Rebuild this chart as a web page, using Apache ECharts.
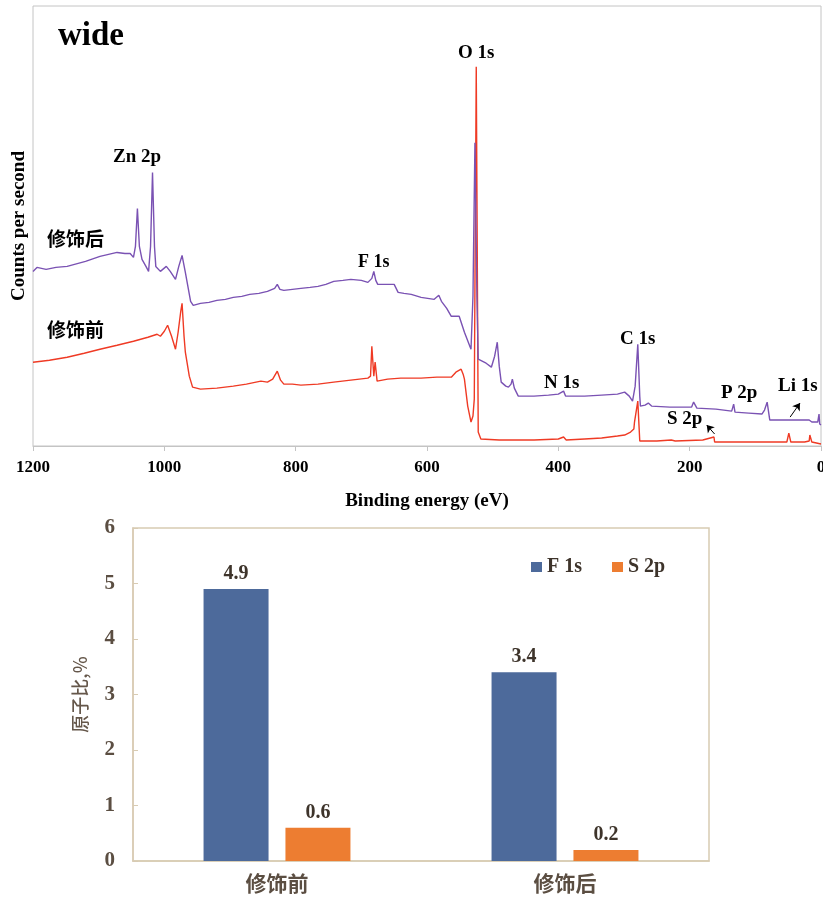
<!DOCTYPE html>
<html>
<head>
<meta charset="utf-8">
<script src="https://cdn.jsdelivr.net/npm/echarts@6/dist/echarts.min.js"></script>
<style>
    html, body { margin: 0; padding: 0; background: #fff; }
    #main { width: 823px; height: 897px; }
</style>
</head>
<body>
<div id="main"></div>
<script>
// XPS 全谱 (Binding energy eV, counts 任意单位)
var afterSpectrum = [
    [1200, 175], [1194, 179], [1180, 177], [1165, 179], [1148, 180], [1120, 185], [1098, 190], [1085, 192],
    [1072, 194], [1060, 193], [1052, 193], [1047, 189], [1044, 200], [1041, 238], [1038, 200], [1034, 187],
    [1028, 180], [1024, 175], [1021, 200], [1018, 274], [1015, 200], [1013, 180], [1006, 175], [997, 180],
    [991, 175], [983, 167], [978, 180], [973, 191], [968, 174], [960, 145], [956, 141], [945, 143],
    [932, 144], [920, 146], [907, 147], [895, 149], [882, 150], [870, 152], [856, 153], [843, 155],
    [832, 158], [828, 162], [824, 157], [818, 156], [805, 157], [792, 158], [778, 159], [766, 160],
    [754, 162], [742, 165], [728, 166], [716, 167], [700, 166], [690, 164], [684, 168], [681, 175],
    [678, 166], [675, 162], [660, 162], [650, 162], [644, 154], [635, 153], [624, 152], [609, 149],
    [589, 147], [582, 151], [578, 145], [570, 138], [563, 130], [551, 130], [543, 114], [533, 97],
    [530, 150], [527, 304], [524, 150], [522, 87], [510, 83], [502, 79], [497, 90], [493, 104],
    [490, 80], [487, 64], [480, 60], [476, 59], [472, 62], [470, 67], [467, 58], [461, 50],
    [437, 50], [415, 51], [400, 52], [392, 55], [389, 50], [360, 50], [334, 51], [310, 52],
    [299, 54], [292, 50], [287, 45], [283, 60], [279, 102], [276, 50], [275, 40], [268, 41],
    [263, 43], [258, 40], [230, 39], [197, 39], [194, 44], [189, 38], [160, 37], [136, 35],
    [133, 42], [131, 34], [110, 33], [90, 32], [86, 36], [82, 44], [78, 26], [60, 26],
    [47, 26], [46, 28], [40, 26], [18, 26], [14, 24], [5, 24], [3, 32], [2, 22], [0, 21]
];
var beforeSpectrum = [
    [1200, 84], [1175, 86], [1148, 89], [1122, 93], [1098, 97], [1072, 101], [1047, 105], [1025, 109],
    [1011, 112], [1006, 110], [1000, 115], [995, 121], [989, 110], [983, 97], [979, 114], [975, 135],
    [973, 143], [970, 110], [968, 94], [962, 70], [957, 59], [945, 57], [920, 58], [895, 60],
    [875, 62], [853, 65], [843, 64], [835, 67], [828, 75], [823, 66], [818, 62], [805, 62],
    [792, 61], [766, 62], [742, 64], [716, 66], [690, 68], [686, 70], [684, 100], [682, 80],
    [681, 70], [679, 84], [676, 65], [660, 67], [640, 68], [609, 68], [585, 69], [563, 69],
    [556, 74], [548, 77], [545, 72], [543, 67], [538, 40], [533, 24], [530, 30], [528, 47],
    [525, 380], [522, 14], [518, 7], [490, 6], [460, 6], [437, 6], [400, 7], [392, 9],
    [388, 6], [360, 7], [334, 8], [310, 10], [299, 11], [290, 14], [285, 17], [284, 24],
    [279, 45], [276, 5], [250, 5], [228, 6], [225, 8], [222, 5], [180, 6], [163, 9],
    [162, 4], [120, 4], [79, 4], [52, 4], [49, 13], [46, 4], [25, 4], [18, 5], [17, 11],
    [14, 4], [11, 2], [0, 2]
];

// 原子比柱状图
var barCategories = ['修饰前', '修饰后'];
var f1sValues = [4.9, 3.4];
var s2pValues = [0.6, 0.2];

var serifFont = '"Liberation Serif", "Times New Roman", serif';
var cjkFont = '"Noto Sans CJK SC", sans-serif';
var brown = '#5b4e42';

var myChart = echarts.init(document.getElementById('main'));

var option = {
    animation: false,
    backgroundColor: '#fff',
    legend: {
        data: ['F 1s', 'S 2p'],
        left: 526,
        top: 552,
        itemWidth: 11,
        itemHeight: 10,
        itemGap: 30,
        icon: 'rect',
        textStyle: { fontFamily: serifFont, fontWeight: 'bold', fontSize: 20, color: '#3e342b' }
    },
    grid: [
        { left: 33, top: 6, width: 788, height: 440, show: true, borderColor: '#c4c4c4', borderWidth: 1, outerBoundsMode: 'none', containLabel: false },
        { left: 133, top: 528, width: 576, height: 333, show: true, borderColor: '#d8cbb3', borderWidth: 1.5, outerBoundsMode: 'none', containLabel: false }
    ],
    xAxis: [
        {
            gridIndex: 0,
            type: 'value',
            inverse: true,
            min: 0,
            max: 1200,
            interval: 200,
            name: 'Binding energy (eV)',
            nameLocation: 'middle',
            nameGap: 46,
            nameTextStyle: { fontFamily: serifFont, fontWeight: 'bold', fontSize: 19, color: '#000' },
            axisLine: { lineStyle: { color: '#c4c4c4' } },
            axisTick: { length: 5, lineStyle: { color: '#c4c4c4' } },
            axisLabel: {
                margin: 13,
                fontFamily: serifFont,
                fontWeight: 'bold',
                fontSize: 17,
                color: '#000',
                formatter: function (v) { return String(v); }
            },
            splitLine: { show: false }
        },
        {
            gridIndex: 1,
            type: 'category',
            data: barCategories,
            axisLine: { lineStyle: { color: '#d8cbb3', width: 1.5 } },
            axisTick: { show: false },
            axisLabel: { margin: 12, fontFamily: cjkFont, fontWeight: 'bold', fontSize: 21, color: brown }
        }
    ],
    yAxis: [
        {
            gridIndex: 0,
            type: 'value',
            min: 0,
            max: 441,
            name: 'Counts per second',
            nameLocation: 'middle',
            nameGap: 4,
            nameTextStyle: { fontFamily: serifFont, fontWeight: 'bold', fontSize: 19, color: '#000' },
            axisLine: { show: false },
            axisTick: { show: false },
            axisLabel: { show: false },
            splitLine: { show: false }
        },
        {
            gridIndex: 1,
            type: 'value',
            min: 0,
            max: 6,
            interval: 1,
            name: '原子比,%',
            nameLocation: 'middle',
            nameGap: 44,
            nameTextStyle: { fontFamily: cjkFont, fontWeight: 500, fontSize: 18, color: '#65574a' },
            axisLine: { show: true, lineStyle: { color: '#d8cbb3', width: 1.5 } },
            axisTick: { show: true, inside: true, length: 5, lineStyle: { color: '#d8cbb3' } },
            axisLabel: { margin: 18, fontFamily: serifFont, fontWeight: 'bold', fontSize: 21, color: brown },
            splitLine: { show: false }
        }
    ],
    series: [
        {
            name: '修饰前',
            type: 'line',
            xAxisIndex: 0,
            yAxisIndex: 0,
            data: beforeSpectrum,
            showSymbol: false,
            lineStyle: { color: '#ef3a24', width: 1.4 },
            itemStyle: { color: '#ef3a24' },
            markLine: {
                silent: true,
                symbol: ['none', 'arrow'],
                symbolSize: 7,
                label: { show: false },
                lineStyle: { color: '#000', type: 'solid', width: 1 },
                data: [
                    [{ coord: [162, 12] }, { coord: [174, 21] }],
                    [{ coord: [47, 29] }, { coord: [32, 43] }]
                ]
            }
        },
        {
            name: '修饰后',
            type: 'line',
            xAxisIndex: 0,
            yAxisIndex: 0,
            data: afterSpectrum,
            showSymbol: false,
            lineStyle: { color: '#7a52b3', width: 1.4 },
            itemStyle: { color: '#7a52b3' }
        },
        {
            name: 'F 1s',
            type: 'bar',
            xAxisIndex: 1,
            yAxisIndex: 1,
            data: f1sValues,
            barWidth: 65,
            barGap: '26%',
            itemStyle: { color: '#4d6a9b' },
            label: {
                show: true,
                position: 'top',
                distance: 5,
                fontFamily: serifFont,
                fontWeight: 'bold',
                fontSize: 20,
                color: '#3e342b'
            }
        },
        {
            name: 'S 2p',
            type: 'bar',
            xAxisIndex: 1,
            yAxisIndex: 1,
            data: s2pValues,
            barWidth: 65,
            itemStyle: { color: '#ed7d31' },
            label: {
                show: true,
                position: 'top',
                distance: 5,
                fontFamily: serifFont,
                fontWeight: 'bold',
                fontSize: 20,
                color: '#3e342b'
            }
        }
    ],
    // 峰标注文字
    graphic: [
        { type: 'text', left: 58, top: 20, style: { text: 'wide', font: 'bold 33px ' + serifFont, fill: '#000' } },
        { type: 'text', left: 113, top: 148, style: { text: 'Zn 2p', font: 'bold 19px ' + serifFont, fill: '#000' } },
        { type: 'text', left: 47, top: 229, style: { text: '修饰后', font: 'bold 19px ' + cjkFont, fill: '#000' } },
        { type: 'text', left: 47, top: 320, style: { text: '修饰前', font: 'bold 19px ' + cjkFont, fill: '#000' } },
        { type: 'text', left: 358, top: 253, style: { text: 'F 1s', font: 'bold 18px ' + serifFont, fill: '#000' } },
        { type: 'text', left: 458, top: 44, style: { text: 'O 1s', font: 'bold 19px ' + serifFont, fill: '#000' } },
        { type: 'text', left: 620, top: 330, style: { text: 'C 1s', font: 'bold 19px ' + serifFont, fill: '#000' } },
        { type: 'text', left: 544, top: 374, style: { text: 'N 1s', font: 'bold 19px ' + serifFont, fill: '#000' } },
        { type: 'text', left: 667, top: 410, style: { text: 'S 2p', font: 'bold 19px ' + serifFont, fill: '#000' } },
        { type: 'text', left: 721, top: 384, style: { text: 'P 2p', font: 'bold 19px ' + serifFont, fill: '#000' } },
        { type: 'text', left: 778, top: 377, style: { text: 'Li 1s', font: 'bold 19px ' + serifFont, fill: '#000' } }
    ]
};

myChart.setOption(option);
</script>
</body>
</html>
